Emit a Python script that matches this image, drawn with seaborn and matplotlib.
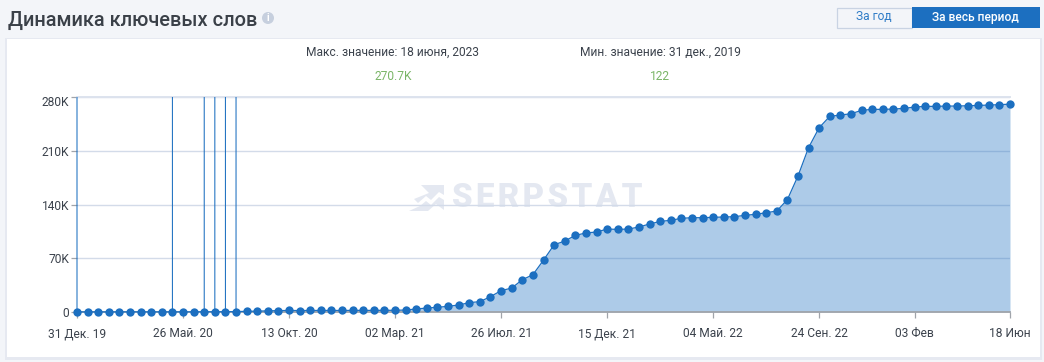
import matplotlib
matplotlib.use('Agg')
import matplotlib.pyplot as plt
from matplotlib.patches import Rectangle, Circle, Polygon
from matplotlib.transforms import ScaledTranslation
import numpy as np
import pandas as pd
import seaborn as sns

# Keyword counts in thousands, one point per period
keywords_k = [
    0.12, 0.15, 0.15, 0.15, 0.2, 0.2, 0.2, 0.2, 0.2, 0.2,
    0.2, 0.2, 0.3, 0.3, 0.4, 0.5, 0.9, 1.1, 1.5, 1.8,
    2.0, 1.9, 2.0, 2.0, 2.0, 2.0, 2.1, 2.1, 2.1, 2.2,
    2.2, 2.6, 3.9, 5.2, 6.1, 7.4, 9.1, 12.2, 13.5, 20.0,
    27.8, 31.2, 42.0, 48.6, 67.5, 87.5, 92.4, 99.8, 102.9, 104.2,
    108.0, 107.6, 108.0, 110.7, 114.6, 118.0, 119.4, 122.0, 122.8, 122.8,
    123.3, 123.7, 124.1, 125.9, 127.2, 129.3, 131.5, 146.3, 177.0, 214.0,
    240.0, 254.8, 256.5, 258.2, 262.6, 263.9, 263.9, 264.3, 265.2, 266.9,
    267.8, 267.8, 268.2, 268.2, 268.6, 269.0, 269.5, 270.0, 270.7,
]
# Periods that have a full-height marker line
spike_idx = [0, 9, 12, 13, 14, 15]
tick_idx = [0, 10, 20, 30, 40, 50, 60, 70, 79, 88]
tick_labels = ['31 Дек. 19', '26 Май. 20', '13 Окт. 20', '02 Мар. 21', '26 Июл. 21',
               '15 Дек. 21', '04 Май. 22', '24 Сен. 22', '03 Фев', '18 Июн']
y_ticks = [0, 70, 140, 210, 280]
y_labels = ['0', '70K', '140K', '210K', '280K']

W, H = 1044, 362
BLUE = '#1c6fc0'
GRID = '#d3dbe9'
AXIS = '#a0a4aa'
TEXT = '#3b424c'
GREEN = '#7ab567'
BG = '#f3f5f9'
MARK = '#e4e8f1'

sns.set_theme(style='white')
plt.rcParams['font.family'] = ['Roboto', 'DejaVu Sans']


def fx(x):
    return x / W


def fy(y):
    return 1 - y / H


def px_text(fig, x, y, s, size_px, **kw):
    kw.setdefault('ha', 'center')
    kw.setdefault('va', 'center')
    return fig.text(fx(x), fy(y), s, fontsize=size_px * 0.72, **kw)


def px_rect(fig, x0, y0, x1, y1, **kw):
    r = Rectangle((fx(x0), fy(y1)), fx(x1 - x0), (y1 - y0) / H, transform=fig.transFigure, **kw)
    fig.add_artist(r)
    return r


def px_poly(fig, pts, **kw):
    fig.add_artist(Polygon([(fx(a), fy(b)) for a, b in pts], transform=fig.transFigure, **kw))


fig = plt.figure(figsize=(W / 100, H / 100), dpi=100, facecolor=BG)

# Card with a soft shadow
px_rect(fig, 5, 38, 1042, 360, fc='#e6e9f1', ec='none', zorder=-4)
px_rect(fig, 7, 39, 1040, 357, fc='white', ec='none', zorder=-3)

# Header
px_text(fig, 8, 20, 'Динамика ключевых слов', 20, ha='left', color='#3a4048', weight='medium')
fig.add_artist(Circle((268, H - 18), 6, transform=None, fc='#c6cfde', ec='none'))
px_text(fig, 268, 18, 'i', 10, color='white', weight='bold')

# Period switch
px_rect(fig, 836.5, 7.5, 912, 27.5, fc=BG, ec='#c9d3e3', lw=0.9)
px_rect(fig, 912, 7, 1040, 28, fc=BLUE, ec='none')
px_text(fig, 874, 17, 'За год', 12, color='#2f7cc7')
px_text(fig, 975, 17, 'За весь период', 12, color='white', weight='medium')

# Min and max summary
px_text(fig, 393, 52, 'Макс. значение: 18 июня, 2023', 12, color=TEXT)
px_text(fig, 393, 77, '270.7K', 12, color=GREEN)
px_text(fig, 660, 52, 'Мин. значение: 31 дек., 2019', 12, color=TEXT)
px_text(fig, 660, 77, '122', 12, color=GREEN)

# Watermark sits behind the plot
px_text(fig, 547, 198, '\u200a'.join('SERPSTAT'), 33, color=MARK, weight='black', zorder=-2)
px_poly(fig, [(421, 185), (444, 185), (444, 195), (439, 192), (431, 200), (426, 196), (418, 203), (414, 199), (429, 193)],
        fc=MARK, ec='none', zorder=-2)
px_poly(fig, [(409, 211), (420, 206), (426, 201), (431, 205), (439, 197), (444, 200), (444, 210), (436, 204), (428, 211)],
        fc=MARK, ec='none', zorder=-2)

ax = fig.add_axes([fx(77), fy(312), fx(1010 - 77), (312 - 97) / H])
ax.patch.set_alpha(0)

df = pd.DataFrame({'period': np.arange(len(keywords_k)), 'keywords': keywords_k})

ax.fill_between(df['period'], df['keywords'], 0, color=BLUE, alpha=0.36, lw=0, zorder=3)
spikes = ax.vlines(spike_idx, 0, 280, color=BLUE, lw=0.75, zorder=3, clip_on=False)
spikes.set_snap(False)
sns.lineplot(data=df, x='period', y='keywords', ax=ax, color=BLUE, lw=0.9, marker='o',
             markersize=6, markeredgewidth=0, clip_on=False, zorder=5)

ax.set_xlim(0, 88)
ax.set_ylim(0, 280)
ax.set_xlabel('')
ax.set_ylabel('')
ax.set_xticks(tick_idx, tick_labels)
ax.set_yticks(y_ticks, y_labels)
ax.tick_params(axis='both', length=4, width=0.9, color=AXIS, labelcolor=TEXT, labelsize=12 * 0.72,
               bottom=True, left=True)
ax.tick_params(axis='x', pad=7)
ax.tick_params(axis='y', pad=1.5)

# The top label hangs a little below its tick
top_label = ax.get_yticklabels()[-1]
top_label.set_transform(top_label.get_transform() + ScaledTranslation(0, -4 / 100, fig.dpi_scale_trans))

ax.grid(axis='y', color=GRID, lw=1, zorder=1)
ax.set_axisbelow(True)
for name in ['left', 'right']:
    ax.spines[name].set_visible(False)
ax.spines['top'].set_color('#dde3ee')
ax.spines['top'].set_linewidth(1.4)
ax.spines['bottom'].set_color(AXIS)
ax.spines['bottom'].set_linewidth(1.3)
ax.spines['bottom'].set_zorder(4)

plt.savefig('out.png', dpi=100, facecolor=fig.get_facecolor())
